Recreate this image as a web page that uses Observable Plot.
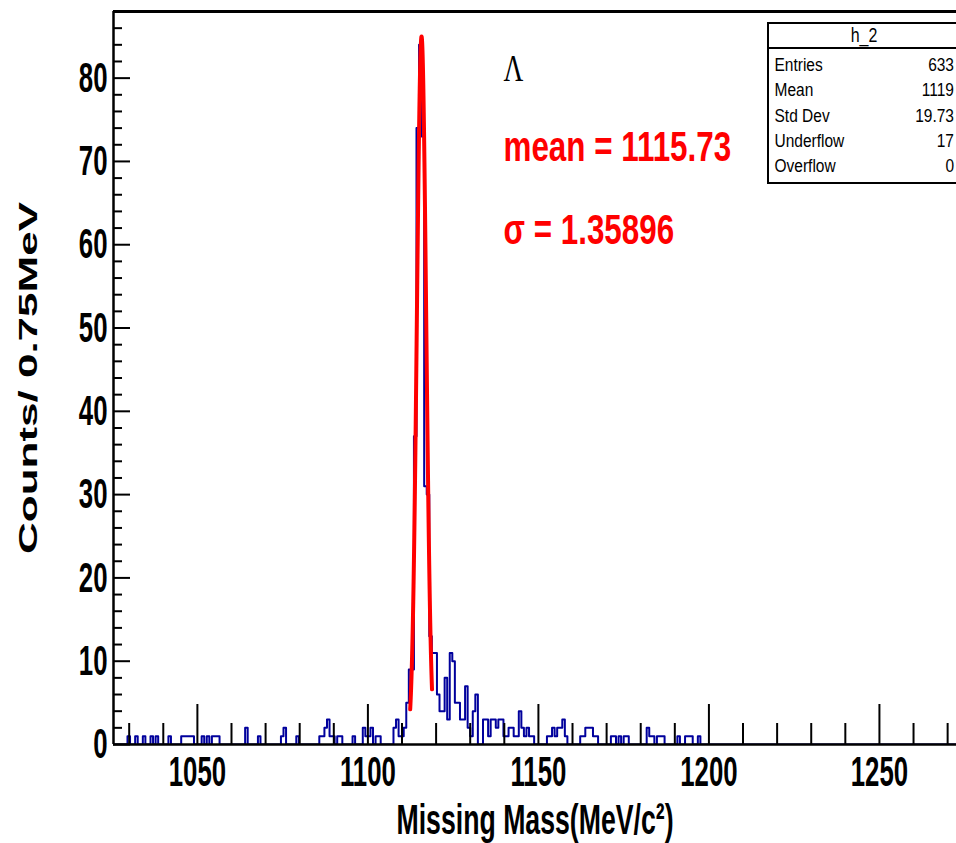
<!DOCTYPE html>
<html>
<head>
<meta charset="utf-8">
<script src="https://cdn.jsdelivr.net/npm/d3@7"></script>
<script src="https://cdn.jsdelivr.net/npm/@observablehq/plot@0.6"></script>
<style>
  html, body { margin: 0; padding: 0; background: #fff; }
  #wrap { position: relative; width: 956px; height: 843px; overflow: hidden; background: #fff; }
  #wrap svg { position: absolute; left: 0; top: 0; }
  #stats { position: absolute; left: 767px; top: 22px; width: 200px; height: 162px; box-sizing: border-box;
           border: 2.5px solid #000; background: #fff; font-family: 'Liberation Sans', Arial, sans-serif;
           font-size: 15.5px; line-height: 19px; color: #000; }
  #stats .title { position: absolute; left: 0; top: 0; width: 190px; height: 23px; border-bottom: 2.5px solid #000; }
  #stats .title span { position: absolute; left: 0; width: 190px; top: 2px; text-align: center; display: block; font-size: 16px; transform: scaleY(1.22); }
  #stats .lab { position: absolute; left: 5.5px; transform: scaleY(1.22); white-space: nowrap; }
  #stats .val { position: absolute; right: 11px; transform: scaleY(1.22); white-space: nowrap; text-align: right; }
</style>
</head>
<body>
<div id="wrap"></div>
<script>
// ---- histogram data (bin low edge in MeV, bin width 0.75 MeV) ----
const histStart = 1025;
const binWidth = 0.75;
const nBins = 330;
const binLow = [
  1029.5, 1031.75, 1034, 1036.25, 1037.75, 1041.5,
  1045.25, 1046, 1046.75, 1047.5, 1048.25,
  1051.25, 1052.75, 1054.25, 1055, 1055.75,
  1064, 1067.75, 1074.5, 1075.25, 1079,
  1085.75, 1086.5, 1087.25, 1088, 1088.75, 1089.5, 1091, 1091.75, 1095.5,
  1098.5, 1099.25, 1100, 1100.75, 1102.25, 1103,
  1107.5, 1108.25, 1109, 1109.75, 1110.5, 1111.25, 1112, 1112.75, 1113.5,
  1114.25, 1115, 1115.75, 1116.5, 1117.25, 1118, 1118.75, 1119.5, 1120.25,
  1121, 1121.75, 1122.5, 1123.25, 1124, 1124.75, 1125.5, 1126.25, 1127,
  1127.75, 1128.5, 1129.25, 1130, 1130.75, 1131.5,
  1133.75, 1134.5, 1135.25, 1136, 1136.75, 1137.5, 1138.25, 1139, 1139.75,
  1140.5, 1141.25, 1142, 1142.75, 1143.5, 1144.25, 1145, 1145.75, 1146.5, 1147.25, 1148,
  1152.5, 1153.25, 1154, 1154.75, 1155.5, 1156.25, 1157, 1157.75,
  1162.25, 1163, 1163.75, 1164.5, 1165.25, 1166, 1166.75,
  1171.25, 1172, 1173.5, 1175, 1175.75,
  1181.75, 1182.5, 1183.25, 1184.75, 1185.5, 1186.25,
  1190.75, 1193, 1193.75, 1194.5, 1196.75
];
const binCount = [
  1, 1, 1, 1, 1, 1,
  1, 1, 1, 1, 1,
  1, 1, 1, 1, 1,
  2, 1, 1, 2, 1,
  1, 1, 2, 3, 1, 1, 1, 1, 1,
  2, 1, 1, 2, 1, 1,
  2, 3, 1, 1, 2, 5, 9, 9, 37,
  74, 84, 73, 31, 30, 13, 11, 11, 6,
  4, 4, 8, 3, 11, 10, 5, 5, 3,
  3, 7, 2, 1, 4, 6,
  3, 3, 1, 3, 3, 2, 3, 3, 1,
  1, 2, 2, 1, 1, 4, 2, 1, 2, 1, 1,
  1, 1, 2, 1, 2, 2, 3, 1,
  1, 1, 2, 2, 2, 1, 1,
  1, 1, 1, 1, 1,
  2, 1, 1, 1, 1, 1,
  1, 1, 1, 1, 1
];

// ---- Gaussian fit parameters ----
const fitMean = 1115.73;
const fitSigma = 1.35896;
const fitAmplitude = 85;
const fitRange = [1112.4, 1118.8];

// ---- axes ----
const xDomain = [1025.4, 1272.6];
const yDomain = [0, 88];
const xMajorTicks = [1050, 1100, 1150, 1200, 1250];
const xMinorTicks = [1030, 1040, 1060, 1070, 1080, 1090, 1110, 1120, 1130, 1140, 1160, 1170, 1180, 1190, 1210, 1220, 1230, 1240, 1260, 1270];
const yMajorTicks = [0, 10, 20, 30, 40, 50, 60, 70, 80];
const yMinorTicks = d3.range(0, 88, 2).filter(v => v % 10 !== 0);
const xTitle = "Missing Mass(MeV/c²)";
const yTitle = "Counts/ 0.75MeV";
const particleLabel = "Λ";
const meanLabel = "mean = 1115.73";
const sigmaLabel = "σ = 1.35896";

// ---- stats box ----
const statsTitle = "h_2";
const statsLabels = ["Entries", "Mean", "Std Dev", "Underflow", "Overflow"];
const statsValues = ["633", "1119", "19.73", "17", "0"];

// build full histogram steps
const countMap = new Map(binLow.map((lo, i) => [Math.round((lo - histStart) / binWidth), binCount[i]]));
const steps = [];
for (let k = 0; k < nBins; k++) steps.push({x: histStart + k * binWidth, y: countMap.get(k) || 0});
steps.push({x: histStart + nBins * binWidth, y: 0});

// fit curve samples
const fitPts = d3.range(fitRange[0], fitRange[1] + 1e-9, 0.02).map(x => ({
  x, y: fitAmplitude * Math.exp(-0.5 * ((x - fitMean) / fitSigma) ** 2)
}));

const W = 956, H = 843, mL = 113, mT = 11, mB = 99, mR = 0;
const plotH = H - mT - mB;
const plotW = W - mL - mR;
const font = "'Liberation Sans', Arial, Helvetica, sans-serif";
const squeezeBig = 0.73;   // horizontal compression of the annotation texts
const lambdaSq = 0.72;

const chart = Plot.plot({
  width: W, height: H,
  marginLeft: mL, marginRight: mR, marginTop: mT, marginBottom: mB,
  style: {fontFamily: font, background: "white", color: "black", overflow: "visible"},
  x: {domain: xDomain},
  y: {domain: yDomain},
  marks: [
    Plot.line(steps, {x: "x", y: "y", curve: "step-after", stroke: "#00009c", strokeWidth: 2, clip: true}),
    Plot.line(fitPts, {x: "x", y: "y", stroke: "#ff0000", strokeWidth: 4, curve: "linear"}),
    Plot.ruleY([yDomain[1]], {stroke: "black", strokeWidth: 3}),
    Plot.ruleY([0], {stroke: "black", strokeWidth: 2.5}),
    Plot.ruleX([xDomain[0]], {stroke: "black", strokeWidth: 2.5}),
    Plot.tickX(xMajorTicks, {x: d => d, insetTop: plotH - 40, stroke: "black", strokeWidth: 2}),
    Plot.tickX(xMinorTicks, {x: d => d, insetTop: plotH - 21, stroke: "black", strokeWidth: 2}),
    Plot.tickY(yMajorTicks, {y: d => d, insetRight: plotW - 17, stroke: "black", strokeWidth: 2}),
    Plot.tickY(yMinorTicks, {y: d => d, insetRight: plotW - 9, stroke: "black", strokeWidth: 2}),
    Plot.axisX({ticks: xMajorTicks, tickSize: 0, tickPadding: 11, fontSize: 43, fontWeight: "bold", label: null, tickFormat: d => String(d)}),
    Plot.axisY({ticks: yMajorTicks, tickSize: 0, tickPadding: 6, fontSize: 43, fontWeight: "bold", label: null, tickFormat: d => String(d)}),
    Plot.text([xTitle], {text: d => d, frameAnchor: "bottom", lineAnchor: "top", dy: 59, fontSize: 43, fontWeight: "bold"}),
    Plot.text([yTitle], {text: d => d, frameAnchor: "left", dx: -85, rotate: -90, textAnchor: "middle", fontSize: 44, fontWeight: "bold"}),
    Plot.text([particleLabel], {text: d => d, frameAnchor: "top-left", dx: 390, dy: 43, lineAnchor: "top", textAnchor: "start", fontSize: 38 * lambdaSq, fontFamily: "'Liberation Serif', 'Times New Roman', serif"}),
    Plot.text([meanLabel], {text: d => d, frameAnchor: "top-left", dx: 390, dy: 119, lineAnchor: "top", textAnchor: "start", fontSize: 43 * squeezeBig, fontWeight: "bold", fill: "#ff0000"}),
    Plot.text([sigmaLabel], {text: d => d, frameAnchor: "top-left", dx: 390, dy: 202, lineAnchor: "top", textAnchor: "start", fontSize: 43 * squeezeBig, fontWeight: "bold", fill: "#ff0000"})
  ]
});

const wrap = document.getElementById("wrap");
wrap.appendChild(chart);

function squeezeEl(t, f) {
  const L = t.getComputedTextLength();
  t.setAttribute("textLength", (L * f).toFixed(2));
  t.setAttribute("lengthAdjust", "spacingAndGlyphs");
}
function stretchEl(t, sx, sy) {
  let tr = t.getAttribute("transform");
  if (!tr) {
    const x = +(t.getAttribute("x") || 0), y = +(t.getAttribute("y") || 0);
    t.removeAttribute("x"); t.removeAttribute("y");
    tr = `translate(${x},${y})`;
  }
  t.setAttribute("transform", `${tr} scale(${sx},${sy})`);
}
function squeezeSel(sel, f) { chart.querySelectorAll(sel).forEach(t => squeezeEl(t, f)); }
function textsWith(content) { return [...chart.querySelectorAll("text")].filter(t => t.textContent === content); }

squeezeSel('g[aria-label="x-axis tick label"] text', 0.6);
squeezeSel('g[aria-label="y-axis tick label"] text', 0.6);
textsWith(xTitle).forEach(t => squeezeEl(t, 0.62));
textsWith(particleLabel).forEach(t => stretchEl(t, 1, 1 / lambdaSq));
textsWith(meanLabel).forEach(t => stretchEl(t, 1, 1 / squeezeBig));
textsWith(sigmaLabel).forEach(t => stretchEl(t, 1, 1 / squeezeBig));
textsWith(yTitle).forEach(t => stretchEl(t, 1, 0.6));

// stats box (legend-like overlay)
const stats = document.createElement("div");
stats.id = "stats";
const ttl = document.createElement("div");
ttl.className = "title";
ttl.innerHTML = "<span></span>";
ttl.firstChild.textContent = statsTitle;
stats.appendChild(ttl);
const rowTops = [30.5, 56, 81.5, 107, 132];
statsLabels.forEach((lab, i) => {
  const a = document.createElement("div");
  a.className = "lab"; a.style.top = rowTops[i] + "px"; a.textContent = lab;
  const b = document.createElement("div");
  b.className = "val"; b.style.top = rowTops[i] + "px"; b.textContent = statsValues[i];
  stats.appendChild(a); stats.appendChild(b);
});
wrap.appendChild(stats);
</script>
</body>
</html>
